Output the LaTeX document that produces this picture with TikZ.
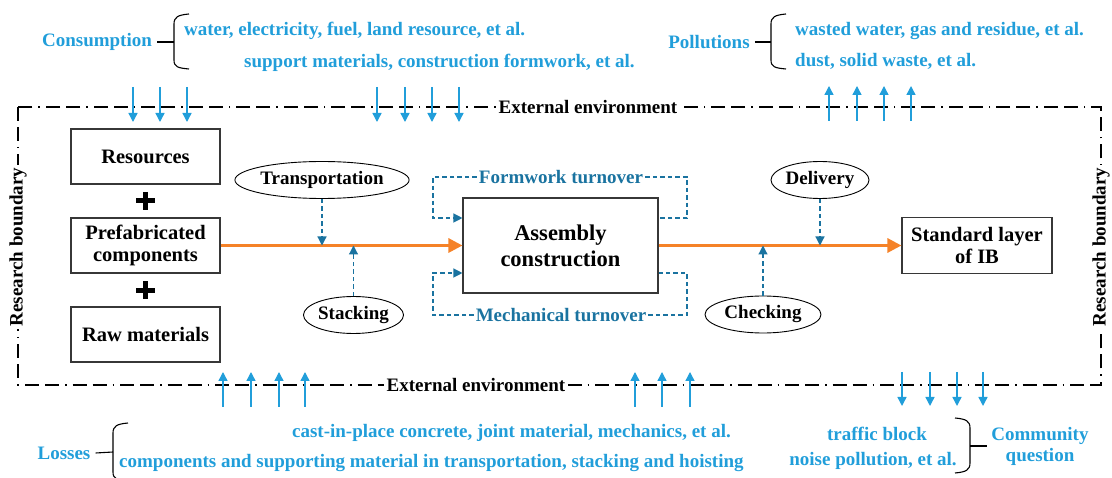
\documentclass[tikz,border=0pt]{standalone}
\usepackage{fontspec}
\setmainfont{Liberation Serif}
\usetikzlibrary{arrows.meta,shapes.geometric,calc}
\definecolor{cblue}{RGB}{33,158,218}
\definecolor{cteal}{RGB}{26,115,160}
\definecolor{corange}{RGB}{245,130,40}
\definecolor{cgray}{RGB}{55,55,55}
\begin{document}
\begin{tikzpicture}[x=1pt,y=-1pt,
  tnineteen/.style={font=\fontsize{19}{21}\selectfont\bfseries},
  ttwenty/.style={font=\fontsize{20.5}{22}\selectfont\bfseries},
  tbig/.style={font=\fontsize{22.5}{26}\selectfont\bfseries},
  box/.style={draw=cgray,line width=1.1pt,minimum width=149,minimum height=55,align=center,inner sep=0,ttwenty},
  oval/.style={draw=black,line width=0.9pt,ellipse,inner sep=0,minimum height=37,tnineteen},
  btext/.style={text=cblue,tnineteen,inner sep=0},
  ttext/.style={text=cteal,tnineteen,inner sep=2pt},
  barrow/.style={draw=cblue,line width=1.4pt,-{Triangle[length=9,width=9]}},
  oarrow/.style={draw=corange,line width=3pt,-{Triangle[length=14,width=14]}},
  darrow/.style={draw=cteal,line width=1.2pt,dash pattern=on 4.5pt off 3pt,-{Triangle[length=9,width=9]}},
  dline/.style={draw=cteal,line width=1.2pt,dash pattern=on 4.5pt off 3pt},
  bracestyle/.style={draw=black,line width=1.1pt},
  frame/.style={draw=black,line width=1.3pt,dash pattern=on 14pt off 6pt on 14pt off 6pt on 1.5pt off 6pt}]
\useasboundingbox (0,0) rectangle (1112,478);

% research boundary frame
\draw[frame] (18,107) rectangle (1101,385);
\node[tnineteen,fill=white,inner sep=3pt] (extT) at (588,107) {External environment};
\node[tnineteen,fill=white,inner sep=3pt] (extB) at (476,385) {External environment};
\node[tnineteen,fill=white,inner sep=3pt,rotate=90] (rbL) at (18,247) {Research boundary};
\node[tnineteen,fill=white,inner sep=3pt,rotate=90] (rbR) at (1101,247) {Research boundary};

% boxes
\node[box] (res) at (145.5,156.5) {Resources};
\node[box] (pre) at (145.5,245.5) {Prefabricated\\components};
\node[box] (raw) at (145.5,334.5) {Raw materials};
\node[box,minimum width=195,minimum height=95,tbig] (asm) at (560.5,245.5) {Assembly\\construction};
\node[box,minimum width=150,minimum height=56] (std) at (977,245.5) {Standard layer\\of IB};

% plus signs
\draw[line width=5pt] (136,201) -- (155,201) (145.5,192) -- (145.5,210);
\draw[line width=5pt] (136,290.5) -- (155,290.5) (145.5,281.5) -- (145.5,299.5);

% main flow
\draw[oarrow] (pre.east) -- (asm.west);
\draw[oarrow] (asm.east) -- (std.west);

% ellipses
\node[oval,minimum width=170] (tr) at (322,180) {Transportation};
\node[oval,minimum width=97] (st) at (353.5,315) {Stacking};
\node[oval,minimum width=98] (dl) at (820,180) {Delivery};
\node[oval,minimum width=116] (ck) at (763,314.5) {Checking};
\draw[darrow] (tr.south) -- (tr.south |- pre.east);
\draw[darrow] (st.north) -- (st.north |- pre.east);
\draw[darrow] (dl.south) -- (dl.south |- pre.east);
\draw[darrow] (ck.north) -- (ck.north |- pre.east);

% turnovers
\node[ttext] (fw) at (561,177) {Formwork turnover};
\node[ttext] (mc) at (561,315) {Mechanical turnover};
\coordinate (fwl) at (433,218);
\coordinate (fwr) at (687,218);
\coordinate (mcl) at (433,273);
\coordinate (mcr) at (687,273);
\draw[darrow] (fw.west) -| (fwl) -- (fwl -| asm.west);
\draw[dline] (fw.east) -| (fwr) -- (fwr -| asm.east);
\draw[darrow] (mc.west) -| (mcl) -- (mcl -| asm.west);
\draw[dline] (mc.east) -| (mcr) -- (mcr -| asm.east);

% consumption
\node[btext] (cons) at (97,42) {Consumption};
\node[btext,anchor=west] (c1) at (184,31) {water, electricity, fuel, land resource, et al.};
\node[btext,anchor=west] (c2) at (244,63) {support materials, construction formwork, et al.};
\coordinate (cbr) at (174,42);
\draw[bracestyle] (189,14) .. controls (178,15) and (174,17) .. (174,24) -- (174,60) .. controls (174,67) and (178,68) .. (189,69);
\draw[bracestyle] ([xshift=5]cons.east) -- (cbr);
\foreach \x [count=\i] in {133,160,187,377,405,432,459} {
  \coordinate (ca\i) at (\x,87);
  \coordinate (cb\i) at (\x,122);
  \draw[barrow] (ca\i) -- (cb\i);
}

% pollutions
\node[btext] (pol) at (709,42) {Pollutions};
\node[btext,anchor=west] (p1) at (795,31) {wasted water, gas and residue, et al.};
\node[btext,anchor=west] (p2) at (795,61) {dust, solid waste, et al.};
\coordinate (pbr) at (771,42);
\draw[bracestyle] (786,14) .. controls (775,15) and (771,17) .. (771,24) -- (771,60) .. controls (771,67) and (775,68) .. (786,69);
\draw[bracestyle] ([xshift=5]pol.east) -- (pbr);
\foreach \x [count=\i] in {829,857,884,911} {
  \coordinate (pa\i) at (\x,121);
  \coordinate (pb\i) at (\x,86);
  \draw[barrow] (pa\i) -- (pb\i);
}

% losses
\node[btext] (los) at (64,453) {Losses};
\node[btext,anchor=east] (l1) at (731,433) {cast-in-place concrete, joint material, mechanics, et al.};
\node[btext,anchor=west] (l2) at (119,463) {components and supporting material in transportation, stacking and hoisting};
\coordinate (lbr) at (113,452);
\draw[bracestyle] (128,423) .. controls (117,424) and (113,426) .. (113,433) -- (113,472) .. controls (113,479) and (117,480) .. (128,481);
\draw[bracestyle] ([xshift=5]los.east) -- (lbr);
\foreach \x [count=\i] in {223,251,279,305,635,662,690} {
  \coordinate (la\i) at (\x,407);
  \coordinate (lb\i) at (\x,372);
  \draw[barrow] (la\i) -- (lb\i);
}

% community question
\node[btext,align=center] (com) at (1040,446) {Community\\question};
\node[btext] (q1) at (877,434) {traffic block};
\node[btext] (q2) at (873,461) {noise pollution, et al.};
\coordinate (qbr) at (970,446);
\draw[bracestyle] (955,418) .. controls (966,419) and (970,421) .. (970,428) -- (970,463) .. controls (970,470) and (966,472) .. (955,473);
\draw[bracestyle] (qbr) -- ([xshift=-4]com.west);
\foreach \x [count=\i] in {902,930,957,983} {
  \coordinate (qa\i) at (\x,372);
  \coordinate (qb\i) at (\x,406);
  \draw[barrow] (qa\i) -- (qb\i);
}
\end{tikzpicture}
\end{document}
